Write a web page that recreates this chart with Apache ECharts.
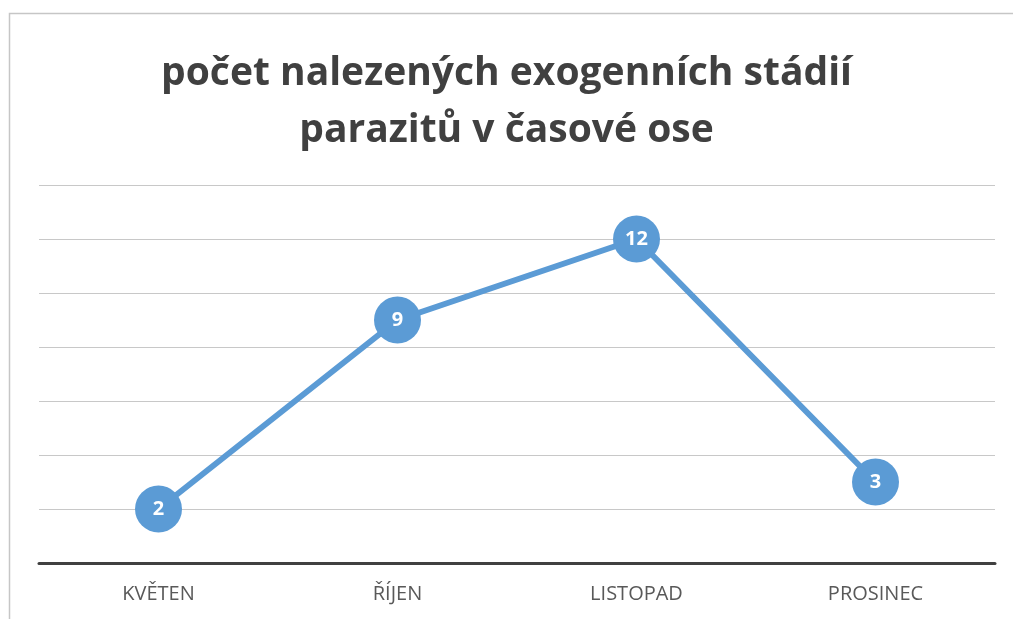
<!DOCTYPE html>
<html>
<head>
<meta charset="utf-8">
<script src="https://cdn.jsdelivr.net/npm/echarts@6/dist/echarts.min.js"></script>
<style>
    html, body { margin: 0; padding: 0; background: #fff; }
    #chart { width: 1013px; height: 619px; }
</style>
</head>
<body>
<div id="chart"></div>
<script>
// chart data
const months = ['KVĚTEN', 'ŘÍJEN', 'LISTOPAD', 'PROSINEC'];
const counts = [2, 9, 12, 3];
const titleText = 'počet nalezených exogenních stádií\nparazitů v časové ose';

const myChart = echarts.init(document.getElementById('chart'));

const option = {
    backgroundColor: '#ffffff',
    title: {
        text: titleText,
        left: 'center',
        top: 40,
        textStyle: {
            fontFamily: 'Open Sans',
            fontWeight: 'bold',
            fontSize: 39,
            lineHeight: 57,
            color: '#404040'
        }
    },
    // outer chart frame (cut off on the right and bottom)
    graphic: [{
        type: 'rect',
        shape: { x: 9.5, y: 13.5, width: 1200, height: 800 },
        style: { fill: 'none', stroke: '#c6c6c6', lineWidth: 1.5 },
        silent: true
    }],
    grid: {
        left: 39,
        right: 18,
        top: 185,
        bottom: 56
    },
    xAxis: {
        type: 'category',
        data: months,
        boundaryGap: true,
        axisTick: { show: false },
        axisLine: {
            lineStyle: { color: '#404040', width: 3 }
        },
        axisLabel: {
            margin: 21,
            fontFamily: 'Open Sans',
            fontSize: 20,
            color: '#595959'
        },
        splitLine: { show: false }
    },
    yAxis: {
        type: 'value',
        min: 0,
        max: 14,
        interval: 2,
        axisLine: { show: false },
        axisTick: { show: false },
        axisLabel: { show: false },
        splitLine: {
            lineStyle: { color: '#c8c8c8', width: 1 }
        }
    },
    series: [{
        name: 'počet',
        type: 'line',
        data: counts,
        symbol: 'circle',
        symbolSize: 47,
        lineStyle: { color: '#5b9bd5', width: 6 },
        itemStyle: { color: '#5b9bd5' },
        label: {
            show: true,
            position: 'inside',
            color: '#ffffff',
            fontFamily: 'Open Sans',
            fontWeight: 'bold',
            fontSize: 20
        },
        animation: false
    }],
    animation: false
};

myChart.setOption(option);
</script>
</body>
</html>
